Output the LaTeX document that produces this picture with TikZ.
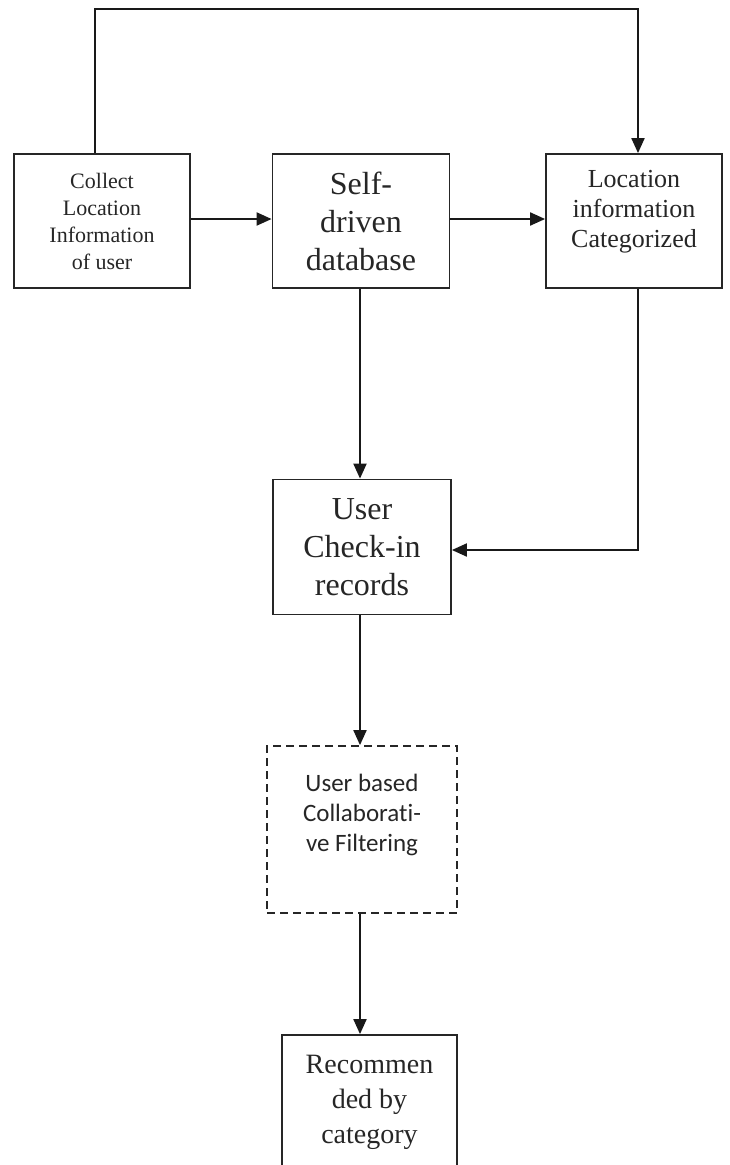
\documentclass[tikz,border=0pt]{standalone}
\usepackage{fontspec}
\setmainfont{Liberation Serif}
\newfontfamily\calib[Ligatures=NoCommon]{Carlito}
\usetikzlibrary{arrows.meta}
\begin{document}
\begin{tikzpicture}[x=1pt,y=-1pt,
  box/.style={draw=black!85,line width=1.8pt,rectangle,align=center,inner sep=2pt,text=black!85},
  dbox/.style={box,dash pattern=on 8pt off 5pt},
  conn/.style={draw=black!90,line width=2pt,-{Triangle[length=15pt,width=13pt]}}]
\useasboundingbox (0,0) rectangle (729,1165);
\node[box,minimum width=176pt,minimum height=134pt,font=\fontsize{22}{27}\selectfont] (collect) at (102,221) {Collect\\Location\\Information\\of user};
\node[box,minimum width=177pt,minimum height=134pt,font=\fontsize{32}{38}\selectfont] (self) at (361,221) {Self-\\driven\\database};
\node[box,minimum width=176pt,minimum height=134pt] (loc) at (634,221) {};
\node[align=center,font=\fontsize{26}{30}\selectfont,text=black!85] (loctext) at (634,212) {Location\\information\\Categorized};
\node[box,minimum width=178pt,minimum height=135pt,font=\fontsize{32}{38}\selectfont] (check) at (362,547) {User\\Check-in\\records};
\node[dbox,minimum width=190pt,minimum height=167pt] (ubcf) at (362,829.5) {};
\node[align=center,font=\calib\fontsize{25}{30}\selectfont,text=black!85] (ubcftext) at (362,815) {User based\\Collaborati-\\ve Filtering};
\node[box,minimum width=175pt,minimum height=134pt,font=\fontsize{28}{35}\selectfont] (rec) at (369.5,1102) {Recommen\\ded by\\category};
\coordinate (topL) at (95,9);
\coordinate (topR) at (638,9);
\draw[conn] ([yshift=2pt]collect.east) -- ([yshift=2pt]collect.east -| self.west);
\draw[conn] ([yshift=2pt]self.east) -- ([yshift=2pt]self.east -| loc.west);
\draw[conn] (collect.north -| topL) -- (topL) -- (topR) -- (loc.north -| topR);
\draw[conn] (self.south -| 360,0) -- (check.north -| 360,0);
\draw[conn] (loc.south -| topR) |- ([yshift=-3pt]check.east);
\draw[conn] (check.south -| 360,0) -- (ubcf.north -| 360,0);
\draw[conn] (ubcf.south -| 360,0) -- (rec.north -| 360,0);
\end{tikzpicture}
\end{document}
